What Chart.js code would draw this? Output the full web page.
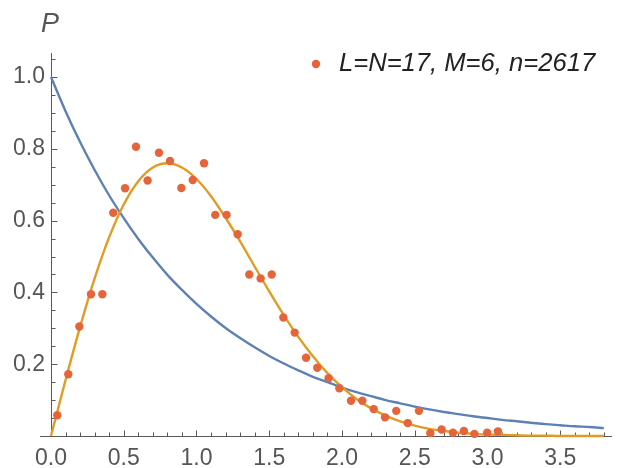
<!DOCTYPE html>
<html>
<head>
<meta charset="utf-8">
<script src="https://cdn.jsdelivr.net/npm/chart.js@4.4.1/dist/chart.umd.min.js"></script>
<style>
  html, body { margin: 0; padding: 0; background: #ffffff; }
</style>
</head>
<body>
<canvas id="myChart" width="625" height="468"></canvas>
<script>
// level spacing histogram (points)
const spacingX = [0.043, 0.119, 0.195, 0.275, 0.353, 0.428, 0.509, 0.584, 0.664, 0.742,
                  0.818, 0.896, 0.974, 1.052, 1.129, 1.207, 1.283, 1.363, 1.441, 1.517,
                  1.597, 1.675, 1.753, 1.830, 1.908, 1.982, 2.062, 2.140, 2.218, 2.296,
                  2.373, 2.452, 2.529, 2.607, 2.685, 2.763, 2.838, 2.910, 2.998, 3.072];
const spacingP = [0.058, 0.172, 0.305, 0.395, 0.395, 0.622, 0.690, 0.806, 0.712, 0.789,
                  0.766, 0.691, 0.713, 0.760, 0.616, 0.616, 0.562, 0.450, 0.439, 0.450,
                  0.330, 0.288, 0.218, 0.190, 0.161, 0.133, 0.098, 0.098, 0.075, 0.052,
                  0.070, 0.036, 0.070, 0.008, 0.018, 0.009, 0.014, 0.006, 0.009, 0.013];

// smooth curves, every 0.1
const curveX = [0.0, 0.1, 0.2, 0.3, 0.4, 0.5, 0.6, 0.7, 0.8, 0.9,
                1.0, 1.1, 1.2, 1.3, 1.4, 1.5, 1.6, 1.7, 1.8, 1.9,
                2.0, 2.1, 2.2, 2.3, 2.4, 2.5, 2.6, 2.7, 2.8, 2.9,
                3.0, 3.1, 3.2, 3.3, 3.4, 3.5, 3.6, 3.7, 3.8];
const poissonP = [1.000, 0.905, 0.819, 0.741, 0.670, 0.607, 0.549, 0.497, 0.449, 0.407,
                  0.368, 0.333, 0.301, 0.273, 0.247, 0.223, 0.202, 0.183, 0.165, 0.150,
                  0.135, 0.122, 0.111, 0.100, 0.091, 0.082, 0.074, 0.067, 0.061, 0.055,
                  0.050, 0.045, 0.041, 0.037, 0.033, 0.030, 0.027, 0.025, 0.022];
const wignerP = [0.000, 0.156, 0.304, 0.439, 0.554, 0.645, 0.710, 0.748, 0.760, 0.748,
                 0.716, 0.668, 0.608, 0.542, 0.472, 0.403, 0.337, 0.276, 0.222, 0.175,
                 0.136, 0.103, 0.077, 0.057, 0.041, 0.029, 0.020, 0.014, 0.009, 0.006,
                 0.004, 0.003, 0.002, 0.001, 0.001, 0.000, 0.000, 0.000, 0.000];

// tick labels
const xTickLabels = [0.0, 0.5, 1.0, 1.5, 2.0, 2.5, 3.0, 3.5];
const yTickLabels = [0.2, 0.4, 0.6, 0.8, 1.0];

const legendLabel = 'L=N=17, M=6, n=2617';
const pointColor = '#E5643A';
const axisColor = '#5a5a5a';
const labelColor = '#555555';
const fontFamily = "'Liberation Sans', Arial, sans-serif";

const toPoints = (xs, ys) => xs.map((v, i) => ({ x: v, y: ys[i] }));

// axes through the origin with inward ticks, the P label and the legend
const axesPlugin = {
    id: 'axesPlugin',
    beforeDatasetsDraw(chart) {
        const { ctx, scales: { x, y } } = chart;
        const x0 = Math.round(x.getPixelForValue(0)) + 0.5;
        const y0 = Math.round(y.getPixelForValue(0)) + 0.5;
        ctx.save();
        ctx.strokeStyle = axisColor;
        ctx.lineWidth = 1;
        ctx.beginPath();
        ctx.moveTo(x.getPixelForValue(-0.076), y0);
        ctx.lineTo(x.right, y0);
        ctx.moveTo(x0, y0);
        ctx.lineTo(x0, y.top);
        // x minor / major ticks
        for (let k = 1; k <= 38; k++) {
            const px = Math.round(x.getPixelForValue(k / 10)) + 0.5;
            const len = (k % 5 === 0) ? 6 : 4;
            ctx.moveTo(px, y0);
            ctx.lineTo(px, y0 - len);
        }
        // y minor / major ticks
        for (let k = 1; k <= 21; k++) {
            const py = Math.round(y.getPixelForValue(k / 20)) + 0.5;
            const len = (k % 4 === 0) ? 6 : 4;
            ctx.moveTo(x0, py);
            ctx.lineTo(x0 + len, py);
        }
        ctx.stroke();

        ctx.fillStyle = labelColor;
        ctx.font = "italic 27px " + fontFamily;
        ctx.textBaseline = 'alphabetic';
        ctx.fillText('P', 41, 32);

        // legend
        ctx.fillStyle = pointColor;
        ctx.beginPath();
        ctx.arc(316, 64, 4.2, 0, Math.PI * 2);
        ctx.fill();
        ctx.fillStyle = '#222222';
        ctx.font = "italic 25.6px " + fontFamily;
        ctx.textBaseline = 'middle';
        ctx.fillText(legendLabel, 339, 64);
        ctx.restore();
    }
};

const ctx = document.getElementById('myChart');

new Chart(ctx, {
    type: 'scatter',
    data: {
        datasets: [
            {
                label: legendLabel,
                data: toPoints(spacingX, spacingP),
                backgroundColor: pointColor,
                borderColor: pointColor,
                pointRadius: 4.2,
                pointBorderWidth: 0,
                pointStyle: 'circle',
                clip: 8
            },
            {
                label: 'GOE',
                data: toPoints(curveX, wignerP),
                showLine: true,
                borderColor: '#E19C24',
                borderWidth: 2.4,
                pointRadius: 0,
                cubicInterpolationMode: 'monotone',
                clip: 3
            },
            {
                label: 'Poisson',
                data: toPoints(curveX, poissonP),
                showLine: true,
                borderColor: '#5E81B5',
                borderWidth: 2.4,
                pointRadius: 0,
                cubicInterpolationMode: 'monotone',
                clip: 3
            }
        ]
    },
    options: {
        responsive: false,
        animation: false,
        layout: { padding: { left: 0, right: 13, top: 53, bottom: 0 } },
        scales: {
            x: {
                type: 'linear',
                min: 0,
                max: 3.856,
                grid: { display: false, drawTicks: false },
                border: { display: false },
                afterBuildTicks: (scale) => { scale.ticks = xTickLabels.map(v => ({ value: v })); },
                afterFit: (scale) => { scale.height = 32; },
                ticks: {
                    padding: 9,
                    color: labelColor,
                    font: { family: fontFamily, size: 23 },
                    maxRotation: 0,
                    callback: (v) => Number(v).toFixed(1)
                }
            },
            y: {
                type: 'linear',
                min: 0,
                max: 1.067,
                grid: { display: false, drawTicks: false },
                border: { display: false },
                afterBuildTicks: (scale) => { scale.ticks = yTickLabels.map(v => ({ value: v })); },
                afterFit: (scale) => { scale.width = 51; },
                ticks: {
                    padding: 6,
                    color: labelColor,
                    font: { family: fontFamily, size: 23 },
                    callback: (v) => Number(v).toFixed(1)
                }
            }
        },
        plugins: {
            tooltip: { enabled: false },
            legend: { display: false }
        }
    },
    plugins: [axesPlugin]
});
</script>
</body>
</html>
